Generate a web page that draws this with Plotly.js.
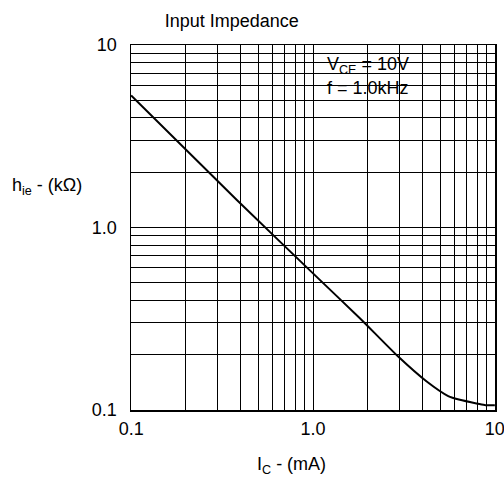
<!DOCTYPE html>
<html>
<head>
<meta charset="utf-8">
<script src="https://cdn.plot.ly/plotly-3.0.1.min.js"></script>
<style>html,body{margin:0;padding:0;background:#fff;}#chart{width:504px;height:483px;}</style>
</head>
<body>
<div id="chart"></div>
<script>
// Collector current I_C (mA)
var icValues = [0.1, 0.38, 1.09, 1.81, 2.94, 4.22, 5.54, 6.42, 8.07, 8.89, 10];
// Input impedance h_ie (kOhm)
var hieValues = [5.3, 1.42, 0.516, 0.318, 0.196, 0.143, 0.119, 0.1135, 0.108, 0.106, 0.106];

var tickVals = [0.1, 1, 10];
var tickText = ["0.1", "1.0", "10"];
var gridVals = [0.2,0.3,0.4,0.5,0.6,0.7,0.8,0.9,2,3,4,5,6,7,8,9];

var chartTitle = "Input Impedance";
var xTitle = "I<sub>C</sub> - (mA)";
var yTitle = "h<sub>ie</sub> - (kΩ)";
var noteLines = ["V<sub>CE</sub> = 10V", "f = 1.0kHz"];

var font = {family: "Liberation Sans, Arial, sans-serif", size: 18, color: "#000"};

var trace = {
  x: icValues, y: hieValues, type: "scatter", mode: "lines",
  line: {color: "#000", width: 2, shape: "spline", smoothing: 0.6},
  hoverinfo: "skip"
};

function axis(extra) {
  var a = {
    type: "log", range: [-1.0008, 1.0008],
    tickmode: "array", tickvals: tickVals, ticktext: tickText,
    showgrid: true, gridcolor: "#000", gridwidth: 1,
    minor: {tickmode: "array", tickvals: gridVals, showgrid: true, gridcolor: "#000", gridwidth: 1, ticks: ""},
    showline: true, linecolor: "#000", linewidth: 1.5, mirror: true,
    ticks: "", zeroline: false,
    ticklabeloverflow: "allow",
    tickfont: font
  };
  for (var k in extra) a[k] = extra[k];
  return a;
}

var layout = {
  width: 504, height: 483,
  margin: {l: 131, r: 9, t: 45, b: 73},
  paper_bgcolor: "#fff", plot_bgcolor: "#fff",
  showlegend: false,
  font: font,
  title: {text: chartTitle, font: font, x: 0.277, xref: "paper", xanchor: "center", y: 0.958, yanchor: "middle"},
  xaxis: axis({ticklabelstandoff: 2}),
  yaxis: axis({ticklabelstandoff: 9}),
  annotations: [
    {text: yTitle, xref: "paper", yref: "paper", x: -0.332, y: 0.611, xanchor: "left", yanchor: "middle", showarrow: false, font: font},
    {text: xTitle, xref: "paper", yref: "paper", x: 0.44, y: -0.153, xanchor: "center", yanchor: "middle", showarrow: false, font: font},
    {text: noteLines[0], xref: "paper", yref: "paper", x: 0.533, y: 0.945, xanchor: "left", yanchor: "middle", showarrow: false, font: font},
    {text: noteLines[1], xref: "paper", yref: "paper", x: 0.533, y: 0.882, xanchor: "left", yanchor: "middle", showarrow: false, font: font}
  ]
};

Plotly.newPlot("chart", [trace], layout, {staticPlot: true, displayModeBar: false});
</script>
</body>
</html>
